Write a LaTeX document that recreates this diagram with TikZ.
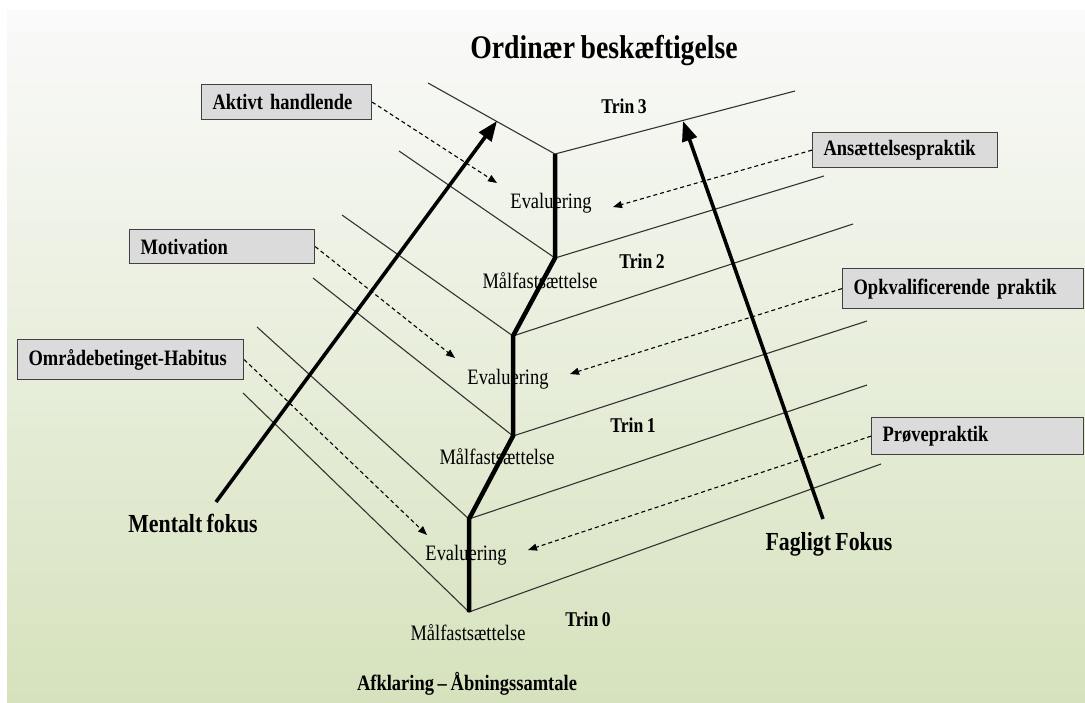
\documentclass[tikz,border=0pt]{standalone}
\usepackage{fontspec}
\setmainfont[FakeStretch=0.84,WordSpace=0.8]{Liberation Serif}
\usetikzlibrary{arrows.meta}

\begin{document}
\begin{tikzpicture}[x=1pt,y=-1pt]
        \tikzset{tbox/.style={draw=black!75, line width=1.2pt, fill=black!14, rectangle, anchor=north west,
                align=left, inner xsep=11pt, inner ysep=0pt, font=\fontsize{22}{24}\selectfont\bfseries},
        lbl/.style={anchor=base, inner sep=0pt, font=\fontsize{22}{24}\selectfont},
        trin/.style={lbl, font=\fontsize{21}{24}\selectfont\bfseries},
        fokus/.style={lbl, font=\fontsize{26}{28}\selectfont\bfseries},
        thin/.style={draw=black!80, line width=1.1pt},
        goal/.style={draw, line width=4.5pt, line join=miter},
        fokusarrow/.style={draw, line width=3.6pt, -{Triangle[length=20pt,width=15pt]}},
        hint/.style={draw, line width=1.1pt, dash pattern=on 4pt off 3pt, -{Triangle[length=9pt,width=7pt]}},
        }
        % background
        \fill[white] (0,0) rectangle (1085,702);
        \shade[top color=green!2!black!2!white, bottom color={rgb,255:red,214;green,226;blue,189}] (7,10) rectangle (1085,702);

        % corners of the steps
        \coordinate (v0) at (469,612);
        \coordinate (v1) at (469,519);
        \coordinate (v2) at (513,436);
        \coordinate (v3) at (513,336);
        \coordinate (v4) at (555,258);
        \coordinate (v5) at (555,154);
        \coordinate (l0) at (243,393);
        \coordinate (l1) at (257,327);
        \coordinate (l2) at (313,278);
        \coordinate (l3) at (342,215);
        \coordinate (l4) at (399,151);
        \coordinate (l5) at (428,83);
        \coordinate (r0) at (881,464);
        \coordinate (r1) at (867,385);
        \coordinate (r2) at (867,321);
        \coordinate (r3) at (853,224);
        \coordinate (r4) at (824,176);
        \coordinate (r5) at (795,91);

        % texts
        \node [lbl, font=\fontsize{33}{36}\selectfont\bfseries] (title) at (604,58) {Ordinær beskæftigelse};
        \node [trin] (trin3) at (624,113) {Trin 3};
        \node [trin] (trin2) at (642,268) {Trin 2};
        \node [trin] (trin1) at (633,432) {Trin 1};
        \node [trin] (trin0) at (588,626) {Trin 0};
        \node [lbl] (eval2) at (551,208) {Evaluering};
        \node [lbl] (eval1) at (508,384) {Evaluering};
        \node [lbl] (eval0) at (466,560) {Evaluering};
        \node [lbl] (maal2) at (540,288) {Målfastsættelse};
        \node [lbl] (maal1) at (497,464) {Målfastsættelse};
        \node [lbl] (maal0) at (468,640) {Målfastsættelse};
        \node [trin, font=\fontsize{22}{24}\selectfont\bfseries] (afklaring) at (467,690) {Afklaring – Åbningssamtale};
        \node [fokus] (mentalt) at (193,532) {Mentalt fokus};
        \node [fokus] (fagligt) at (829,550) {Fagligt Fokus};

        \node [tbox, text width=148pt, minimum height=35pt] (aktivt) at (201,84) {Aktivt handlende};
        \node [tbox, text width=163pt, minimum height=35pt] (ansaet) at (812,132) {Ansættelsespraktik};
        \node [tbox, text width=163pt, minimum height=34pt] (motiv) at (129,229) {Motivation};
        \node [tbox, text width=219pt, minimum height=40pt] (opkval) at (842,268) {Opkvalificerende praktik};
        \node [tbox, text width=204pt, minimum height=40pt] (omraade) at (17,339) {Områdebetinget-Habitus};
        \node [tbox, text width=190pt, minimum height=37pt] (proeve) at (871,417) {Prøvepraktik};

        \coordinate (mstart) at (216,502);
        \coordinate (mtip) at (497,121);
        \coordinate (fstart) at (823,519);
        \coordinate (ftip) at (683,121);
        \coordinate (t5) at (497,183);
        \coordinate (t4) at (613,207);
        \coordinate (t3) at (455,358);
        \coordinate (t2) at (570,374);
        \coordinate (t1) at (427,535);
        \coordinate (t0) at (528,550);

%% paths
        \path[thin] (l0) -- (v0) -- (r0)
                    (l1) -- (v1) -- (r1)
                    (l2) -- (v2) -- (r2)
                    (l3) -- (v3) -- (r3)
                    (l4) -- (v4) -- (r4)
                    (l5) -- (v5) -- (r5);
        \path[goal] (v0) -- (v1) -- (v2) -- (v3) -- (v4) -- (v5);
        \path[fokusarrow] (mstart) -- (mtip);
        \path[fokusarrow] (fstart) -- (ftip);
        \path (aktivt.east) edge[hint] (t5)
              (ansaet.west) edge[hint] (t4)
              (motiv.east) edge[hint] (t3)
              (opkval.west) edge[hint] (t2)
              (omraade.east) edge[hint] (t1)
              (proeve.west) edge[hint] (t0);
\end{tikzpicture}
\end{document}
